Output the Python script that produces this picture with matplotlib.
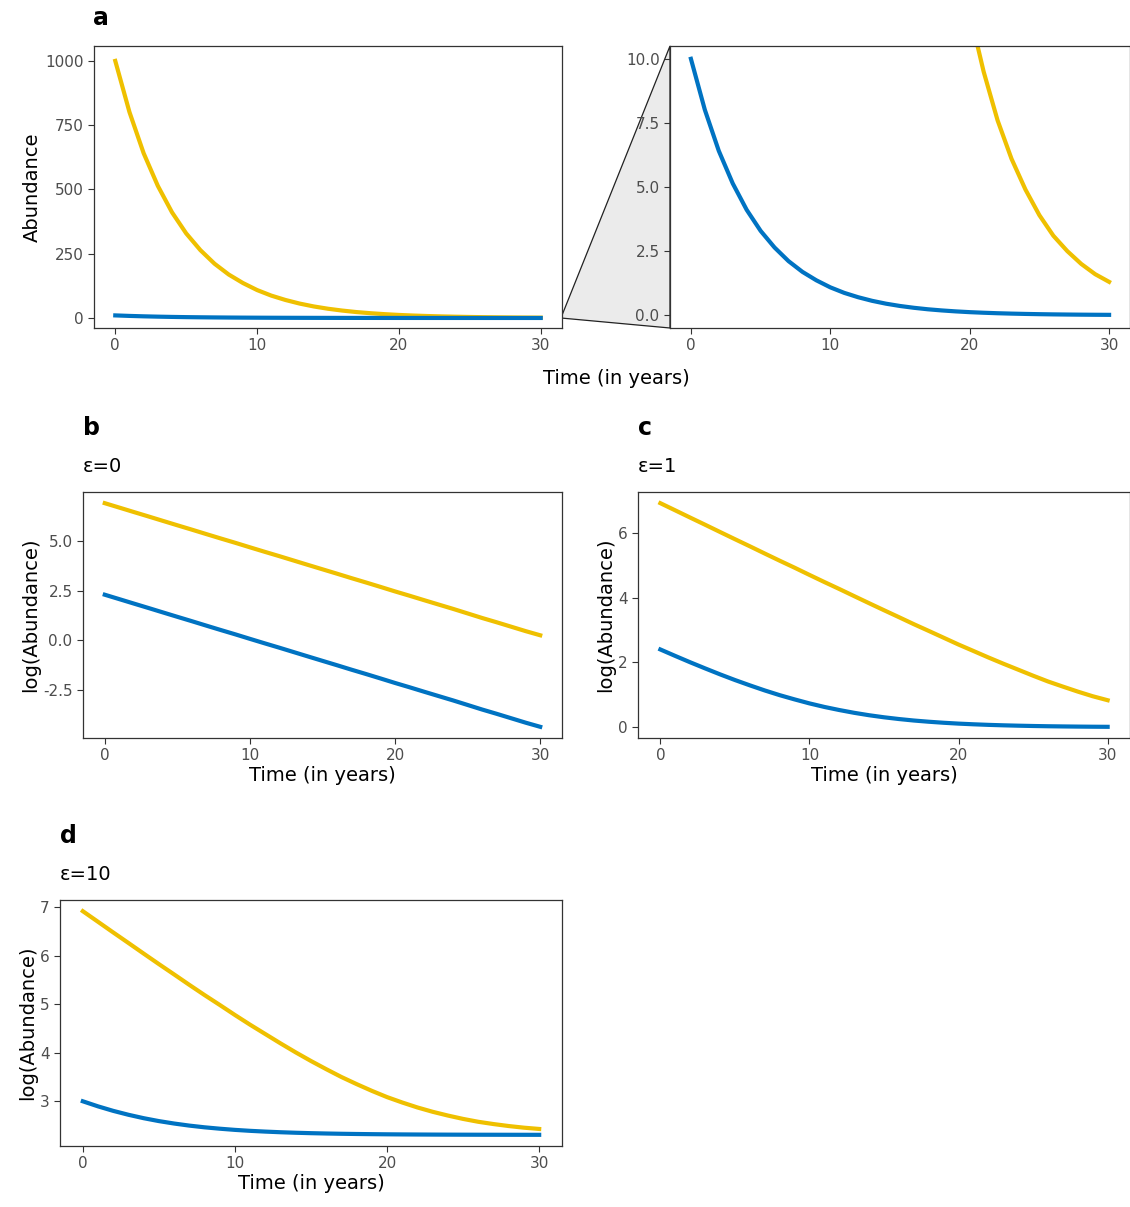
import numpy as np
import matplotlib
matplotlib.use("Agg")
import matplotlib.pyplot as plt
from matplotlib.patches import Polygon

years = list(range(31))
big_pop = [1000, 801, 641, 514, 411, 329, 264, 211, 169, 136, 108.6, 87, 70, 56, 44.8, 35.9,
           28.8, 23.0, 18.5, 14.8, 11.8, 9.5, 7.6, 6.1, 4.9, 3.9, 3.1, 2.5, 2.0, 1.6, 1.3]
small_pop = [10, 8.01, 6.41, 5.14, 4.11, 3.29, 2.64, 2.11, 1.69, 1.36, 1.086, 0.87, 0.70, 0.56,
             0.448, 0.359, 0.288, 0.230, 0.185, 0.148, 0.118, 0.095, 0.076, 0.061, 0.049, 0.039,
             0.031, 0.025, 0.020, 0.016, 0.013]
eps_values = [0, 1, 10]
YEL = "#EFC000"
BLU = "#0073C2"

W, H = 1130, 1207
fig = plt.figure(figsize=(W/100, H/100), dpi=100)
plt.rcParams['font.family'] = ['DejaVu Sans']

def ax_px(x0, y0, x1, y1):
    return fig.add_axes([x0/W, 1-y1/H, (x1-x0)/W, (y1-y0)/H])

def style(ax):
    for s in ax.spines.values():
        s.set_linewidth(0.9); s.set_color("#333333")
    ax.tick_params(labelsize=11, labelcolor="#4d4d4d", color="#333333", length=4)
    ax.set_xlim(-1.5, 31.5)
    ax.set_xticks([0, 10, 20, 30])

t = np.array(years); yb = np.array(big_pop); ys = np.array(small_pop)

# panel a
a1 = ax_px(94, 46, 562, 328)
a1.plot(t, yb, color=YEL, lw=3); a1.plot(t, ys, color=BLU, lw=3)
style(a1); a1.set_ylim(-39, 1058); a1.set_yticks([0, 250, 500, 750, 1000])
a1.set_ylabel("Abundance", fontsize=14, labelpad=2)
a2 = ax_px(670, 46, 1130, 328)
a2.plot(t, yb, color=YEL, lw=3); a2.plot(t, ys, color=BLU, lw=3)
style(a2); a2.set_ylim(-0.5, 10.5); a2.set_yticks([0, 2.5, 5, 7.5, 10])
a2.set_yticklabels(["0.0", "2.5", "5.0", "7.5", "10.0"])
fig.text(616/W, 1-378/H, "Time (in years)", fontsize=14, ha="center", va="center")
fig.text(93/W, 1-18/H, "a", fontsize=17, fontweight="bold", ha="left", va="center")

# zoom wedge
p0 = fig.transFigure.inverted().transform(a1.transData.transform((31.5, 10.5)))
p1 = fig.transFigure.inverted().transform(a1.transData.transform((31.5, -0.5)))
poly = Polygon([p0, (670/W, 1-46/H), (670/W, 1-328/H), p1], closed=True,
               transform=fig.transFigure, facecolor="#ebebeb", edgecolor="#222222", lw=0.9,
               zorder=-1)
fig.add_artist(poly)

panels = [("b", (83, 492, 562, 738), 0), ("c", (638, 492, 1130, 738), 1), ("d", (60, 900, 562, 1146), 2)]
for lab, (x0, y0, x1, y1), i in panels:
    ax = ax_px(x0, y0, x1, y1)
    e = eps_values[i]
    ax.plot(t, np.log(yb + e), color=YEL, lw=3)
    ax.plot(t, np.log(ys + e), color=BLU, lw=3)
    style(ax)
    ax.set_ylabel("log(Abundance)", fontsize=14, labelpad=2)
    ax.set_xlabel("Time (in years)", fontsize=14, labelpad=2)
    fig.text(x0/W, 1-(y0-26)/H, f"ε={e}", fontsize=14, va="center", ha="left")
    fig.text(x0/W, 1-(y0-64)/H, lab, fontsize=17, fontweight="bold", va="center", ha="left")
    if i == 0:
        ax.set_yticks([-2.5, 0, 2.5, 5.0]); ax.set_yticklabels(["-2.5", "0.0", "2.5", "5.0"])
    elif i == 1:
        ax.set_yticks([0, 2, 4, 6])
    else:
        ax.set_yticks([3, 4, 5, 6, 7])

fig.savefig("out.png", dpi=100)
